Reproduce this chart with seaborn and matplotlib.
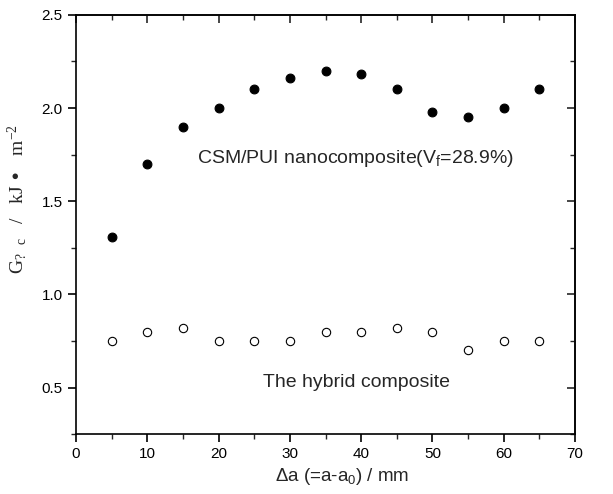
import matplotlib
matplotlib.use("Agg")
import matplotlib.pyplot as plt
import seaborn as sns
import pandas as pd
from matplotlib.ticker import MultipleLocator

delta_a = [5, 10, 15, 20, 25, 30, 35, 40, 45, 50, 55, 60, 65]
nano_G = [1.31, 1.70, 1.90, 2.00, 2.10, 2.16, 2.20, 2.18, 2.10, 1.98, 1.95, 2.00, 2.10]
hybrid_G = [0.75, 0.80, 0.82, 0.75, 0.75, 0.75, 0.80, 0.80, 0.82, 0.80, 0.70, 0.75, 0.75]

sns.set_theme(style="ticks")
plt.rcParams['font.family'] = ['Liberation Sans', 'DejaVu Sans']
plt.rcParams['mathtext.default'] = 'regular'

df = pd.DataFrame({"da": delta_a, "nano": nano_G, "hybrid": hybrid_G})

fig = plt.figure(figsize=(6.13, 4.94), dpi=100)
ax = fig.add_axes([0.124, 0.121, 0.814, 0.849])

sns.scatterplot(data=df, x="da", y="nano", ax=ax, s=40, color="black",
                edgecolor="black", linewidth=0.8, zorder=3)
sns.scatterplot(data=df, x="da", y="hybrid", ax=ax, s=36, facecolor="white",
                edgecolor="black", linewidth=0.8, zorder=3)

ax.set_xlim(0, 70)
ax.set_ylim(0.25, 2.5)
ax.xaxis.set_major_locator(MultipleLocator(10))
ax.xaxis.set_minor_locator(MultipleLocator(5))
ax.yaxis.set_major_locator(MultipleLocator(0.5))
ax.yaxis.set_minor_locator(MultipleLocator(0.25))
ax.set_yticks([0.5, 1.0, 1.5, 2.0, 2.5])
ax.set_yticklabels(["0.5", "1.0", "1.5", "2.0", "2.5"])

for s in ax.spines.values():
    s.set_linewidth(1.2)
    s.set_color("black")

ax.tick_params(which="major", direction="out", length=6, width=1.2, labelsize=11, colors="black")
ax.tick_params(which="minor", direction="out", length=3.5, width=1.0)

# top and right ticks pointing inward
secx = ax.secondary_xaxis("top")
secx.xaxis.set_major_locator(MultipleLocator(10))
secx.xaxis.set_minor_locator(MultipleLocator(5))
secx.tick_params(which="major", direction="in", length=6, width=1.2, labeltop=False)
secx.tick_params(which="minor", direction="in", length=3.5, width=1.0)
secy = ax.secondary_yaxis("right")
secy.yaxis.set_major_locator(MultipleLocator(0.5))
secy.yaxis.set_minor_locator(MultipleLocator(0.25))
secy.tick_params(which="major", direction="in", length=6, width=1.2, labelright=False)
secy.tick_params(which="minor", direction="in", length=3.5, width=1.0)

ax.set_xlabel("Δa (=a-a$_0$) / mm", fontsize=13.5)
ax.xaxis.set_label_coords(0.533, -0.075)
ax.set_ylabel("G$_{?\\ \\ c}$   /   kJ •   m$^{-2}$", fontsize=14,
              family="Liberation Serif")
ax.yaxis.set_label_coords(-0.094, 0.56)

ax.text(17.0, 1.73, "CSM/PUI nanocomposite(V$_f$=28.9%)", fontsize=14, ha="left", va="center")
ax.text(26.2, 0.525, "The hybrid composite", fontsize=14, ha="left", va="center")

fig.savefig("out.png", dpi=100)
